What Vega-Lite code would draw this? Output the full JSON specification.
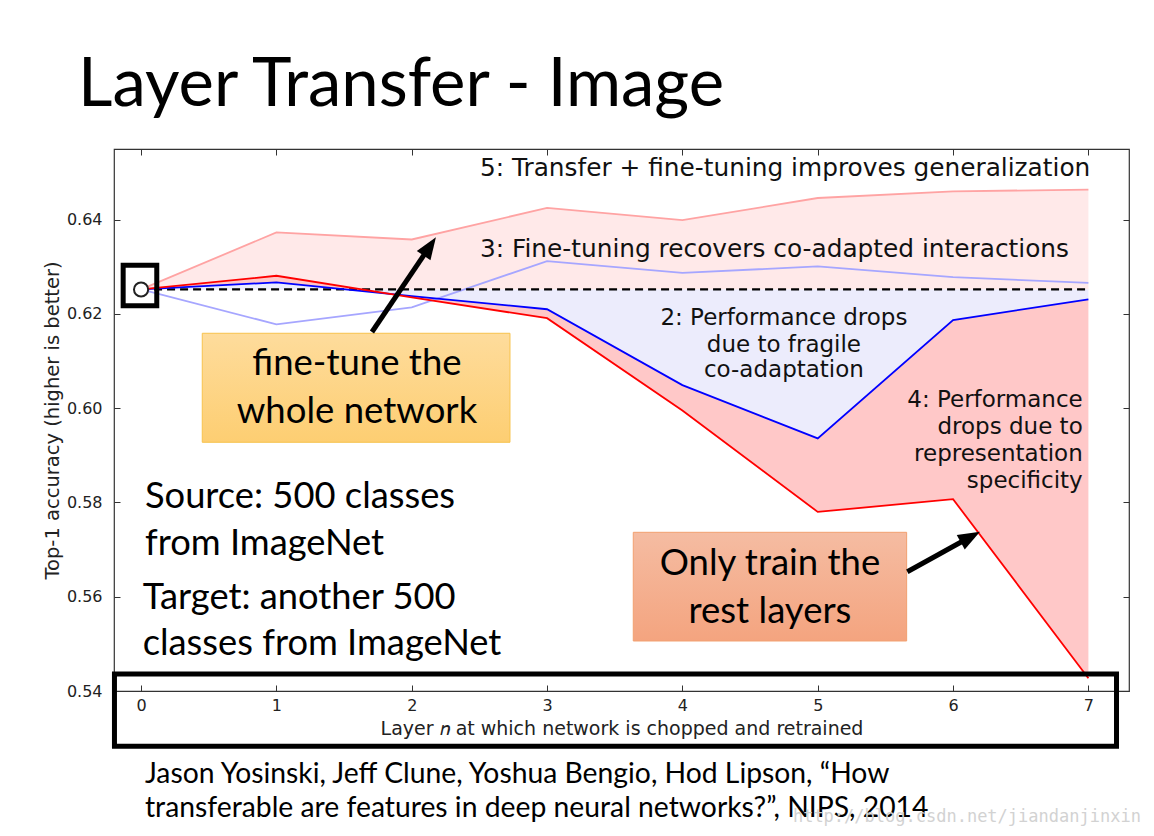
{
  "$schema": "https://vega.github.io/schema/vega-lite/v6.json",
  "width": 1015,
  "height": 542,
  "autosize": {"type": "none"},
  "padding": {"left": 114, "top": 149, "right": 25, "bottom": 145},
  "background": "white",
  "config": {
    "view": {"stroke": "#333", "strokeWidth": 1.2},
    "axis": {"grid": false, "domain": false, "labelFlush": false, "tickColor": "#333", "tickWidth": 1}
  },
  "title": {
    "text": "Layer Transfer - Image",
    "anchor": "start",
    "frame": "group",
    "font": "Lato",
    "fontSize": 67,
    "fontWeight": "normal",
    "color": "#000",
    "baseline": "alphabetic",
    "dx": -36,
    "dy": 66,
    "offset": 42
  },
  "datasets": {
    "acc": [
      {"n": 0, "base": 0.6252, "AnB_ft": 0.6252, "BnB_ft": 0.6252, "AnB": 0.6252, "BnB": 0.6252},
      {"n": 1, "base": 0.6252, "AnB_ft": 0.6373, "BnB_ft": 0.6178, "AnB": 0.6281, "BnB": 0.6267},
      {"n": 2, "base": 0.6252, "AnB_ft": 0.6358, "BnB_ft": 0.6214, "AnB": 0.6235, "BnB": 0.6238},
      {"n": 3, "base": 0.6252, "AnB_ft": 0.6425, "BnB_ft": 0.6312, "AnB": 0.6191, "BnB": 0.6210},
      {"n": 4, "base": 0.6252, "AnB_ft": 0.6399, "BnB_ft": 0.6287, "AnB": 0.5995, "BnB": 0.6049},
      {"n": 5, "base": 0.6252, "AnB_ft": 0.6446, "BnB_ft": 0.6301, "AnB": 0.5780, "BnB": 0.5936},
      {"n": 6, "base": 0.6252, "AnB_ft": 0.6460, "BnB_ft": 0.6278, "AnB": 0.5807, "BnB": 0.6187},
      {"n": 7, "base": 0.6252, "AnB_ft": 0.6464, "BnB_ft": 0.6266, "AnB": 0.5427, "BnB": 0.6231}
    ],
    "frames": [
      {"x1": -0.1323, "x2": 0.1160, "y1": 0.63035, "y2": 0.62173},
      {"x1": -0.1966, "x2": 7.2077, "y1": 0.5436, "y2": 0.5283}
    ],
    "yellowBox": [{"x1": 0.4522, "x2": 2.7259, "y1": 0.61590, "y2": 0.59277}],
    "orangeBox": [{"x1": 3.637, "x2": 5.657, "y1": 0.57367, "y2": 0.55061}],
    "arrows": [
      {"x1": 1.706, "y1": 0.61617, "x2": 2.122, "y2": 0.63385},
      {"x1": 5.662, "y1": 0.56531, "x2": 6.110, "y2": 0.5724}
    ],
    "head1": [{"x": 2.122, "y": 0.63385}],
    "head2": [{"x": 6.110, "y": 0.5724}],
    "notesLeft": [
      {"x": 2.504, "y": 0.64927, "text": "5: Transfer + fine-tuning improves generalization"},
      {"x": 2.504, "y": 0.63209, "text": "3: Fine-tuning recovers co-adapted interactions"}
    ],
    "notesCenter": [
      {"x": 4.75, "y": 0.61766, "text": "2: Performance drops"},
      {"x": 4.75, "y": 0.61200, "text": "due to fragile"},
      {"x": 4.75, "y": 0.60657, "text": "co-adaptation"}
    ],
    "notesRight": [
      {"x": 6.958, "y": 0.60033, "text": "4: Performance"},
      {"x": 6.958, "y": 0.59453, "text": "drops due to"},
      {"x": 6.958, "y": 0.58880, "text": "representation"},
      {"x": 6.958, "y": 0.58302, "text": "specificity"}
    ],
    "boxText": [
      {"x": 1.595, "y": 0.60705, "text": "fine-tune the"},
      {"x": 1.595, "y": 0.59680, "text": "whole network"},
      {"x": 4.647, "y": 0.56461, "text": "Only train the"},
      {"x": 4.647, "y": 0.55449, "text": "rest layers"}
    ],
    "sourceText": [
      {"x": 0.0288, "y": 0.57889, "text": "Source: 500 classes"},
      {"x": 0.0288, "y": 0.56886, "text": "from ImageNet"},
      {"x": 0.0118, "y": 0.55734, "text": "Target: another 500"},
      {"x": 0.0118, "y": 0.54757, "text": "classes from ImageNet"}
    ],
    "citation": [
      {"x": 0.0288, "y": 0.52048, "text": "Jason Yosinski, Jeff Clune, Yoshua Bengio, Hod Lipson, “How"},
      {"x": 0.0288, "y": 0.51327, "text": "transferable are features in deep neural networks?”, NIPS, 2014"}
    ],
    "watermark": [{"x": 7.388, "y": 0.5122, "text": "http://blog.csdn.net/jiandanjinxin"}]
  },
  "resolve": {"axis": {"x": "independent", "y": "independent"}},
  "layer": [
    {
      "layer": [
        {
          "data": {"name": "acc"},
          "mark": {"type": "area", "color": "#ffe9e9", "opacity": 1},
          "encoding": {
            "x": {
              "field": "n", "type": "quantitative",
              "scale": {"domain": [-0.2, 7.3], "nice": false, "zero": false},
              "axis": {
                "orient": "bottom", "values": [0, 1, 2, 3, 4, 5, 6, 7], "format": "d",
                "tickSize": -6, "labelFont": "DejaVu Sans", "labelFontSize": 16, "labelColor": "#222",
                "labelPadding": 12,
                "title": "Layer 𝑛 at which network is chopped and retrained",
                "titleFont": "DejaVu Sans", "titleFontSize": 19, "titleFontWeight": "normal",
                "titleColor": "#222", "titlePadding": 6
              }
            },
            "y": {
              "field": "AnB_ft", "type": "quantitative",
              "scale": {"domain": [0.54, 0.655], "nice": false, "zero": false},
              "axis": {
                "orient": "left", "values": [0.54, 0.56, 0.58, 0.6, 0.62, 0.64], "format": ".2f",
                "tickSize": -6, "labelFont": "DejaVu Sans", "labelFontSize": 16, "labelColor": "#222",
                "labelPadding": 18,
                "title": "Top-1 accuracy (higher is better)",
                "titleFont": "DejaVu Sans", "titleFontSize": 19.5, "titleFontWeight": "normal",
                "titleColor": "#222", "titlePadding": 4
              }
            },
            "y2": {"field": "base"}
          }
        },
        {
          "data": {"name": "acc"},
          "mark": {"type": "area", "color": "#ececfc", "opacity": 1},
          "encoding": {
            "x": {"field": "n", "type": "quantitative"},
            "y": {"field": "BnB", "type": "quantitative"},
            "y2": {"field": "base"}
          }
        },
        {
          "data": {"name": "acc"},
          "mark": {"type": "area", "color": "#ffc8c8", "opacity": 1},
          "encoding": {
            "x": {"field": "n", "type": "quantitative"},
            "y": {"field": "AnB", "type": "quantitative"},
            "y2": {"field": "BnB"}
          }
        },
        {
          "data": {"name": "acc"},
          "mark": {"type": "line", "color": "#ffa3a3", "strokeWidth": 1.8},
          "encoding": {
            "x": {"field": "n", "type": "quantitative"},
            "y": {"field": "AnB_ft", "type": "quantitative"}
          }
        },
        {
          "data": {"name": "acc"},
          "mark": {"type": "line", "color": "#a6a6ff", "strokeWidth": 1.8},
          "encoding": {
            "x": {"field": "n", "type": "quantitative"},
            "y": {"field": "BnB_ft", "type": "quantitative"}
          }
        },
        {
          "data": {"name": "acc"},
          "mark": {"type": "line", "color": "#000", "strokeWidth": 2.2, "strokeDash": [8, 5]},
          "encoding": {
            "x": {"field": "n", "type": "quantitative"},
            "y": {"field": "base", "type": "quantitative"}
          }
        },
        {
          "data": {"name": "acc"},
          "mark": {"type": "line", "color": "#0000ff", "strokeWidth": 1.8},
          "encoding": {
            "x": {"field": "n", "type": "quantitative"},
            "y": {"field": "BnB", "type": "quantitative"}
          }
        },
        {
          "data": {"name": "acc"},
          "mark": {"type": "line", "color": "#ff0000", "strokeWidth": 1.8},
          "encoding": {
            "x": {"field": "n", "type": "quantitative"},
            "y": {"field": "AnB", "type": "quantitative"}
          }
        },
        {
          "data": {"name": "acc"},
          "transform": [{"filter": "datum.n == 0"}],
          "mark": {"type": "point", "shape": "circle", "filled": true, "fill": "white", "stroke": "#222", "strokeWidth": 2, "size": 200, "opacity": 1},
          "encoding": {
            "x": {"field": "n", "type": "quantitative"},
            "y": {"field": "base", "type": "quantitative"}
          }
        },
        {
          "data": {"name": "frames"},
          "mark": {"type": "rect", "fill": null, "fillOpacity": 0, "stroke": "#000", "strokeWidth": 5},
          "encoding": {
            "x": {"field": "x1", "type": "quantitative"},
            "x2": {"field": "x2"},
            "y": {"field": "y1", "type": "quantitative"},
            "y2": {"field": "y2"}
          }
        },
        {
          "data": {"name": "yellowBox"},
          "mark": {
            "type": "rect", "stroke": "#f7c24c", "strokeWidth": 1,
            "fill": {"gradient": "linear", "x1": 0, "y1": 0, "x2": 0, "y2": 1,
              "stops": [{"offset": 0, "color": "#fedc9c"}, {"offset": 1, "color": "#fdce72"}]}
          },
          "encoding": {
            "x": {"field": "x1", "type": "quantitative"},
            "x2": {"field": "x2"},
            "y": {"field": "y1", "type": "quantitative"},
            "y2": {"field": "y2"}
          }
        },
        {
          "data": {"name": "orangeBox"},
          "mark": {
            "type": "rect", "stroke": "#f2a070", "strokeWidth": 1,
            "fill": {"gradient": "linear", "x1": 0, "y1": 0, "x2": 0, "y2": 1,
              "stops": [{"offset": 0, "color": "#f5bca2"}, {"offset": 1, "color": "#f4a47f"}]}
          },
          "encoding": {
            "x": {"field": "x1", "type": "quantitative"},
            "x2": {"field": "x2"},
            "y": {"field": "y1", "type": "quantitative"},
            "y2": {"field": "y2"}
          }
        },
        {
          "data": {"name": "arrows"},
          "mark": {"type": "rule", "color": "#000", "strokeWidth": 5},
          "encoding": {
            "x": {"field": "x1", "type": "quantitative"},
            "y": {"field": "y1", "type": "quantitative"},
            "x2": {"field": "x2"},
            "y2": {"field": "y2"}
          }
        },
        {
          "data": {"name": "head1"},
          "mark": {"type": "point", "shape": "M0,-1L0.6,0.6L-0.6,0.6Z", "filled": true, "color": "#000", "opacity": 1, "size": 756, "angle": 34},
          "encoding": {
            "x": {"field": "x", "type": "quantitative"},
            "y": {"field": "y", "type": "quantitative"}
          }
        },
        {
          "data": {"name": "head2"},
          "mark": {"type": "point", "shape": "M0,-1L0.6,0.6L-0.6,0.6Z", "filled": true, "color": "#000", "opacity": 1, "size": 756, "angle": 61},
          "encoding": {
            "x": {"field": "x", "type": "quantitative"},
            "y": {"field": "y", "type": "quantitative"}
          }
        },
        {
          "data": {"name": "notesLeft"},
          "mark": {"type": "text", "align": "left", "baseline": "alphabetic", "font": "DejaVu Sans", "fontSize": 24.8, "color": "#111"},
          "encoding": {
            "x": {"field": "x", "type": "quantitative"},
            "y": {"field": "y", "type": "quantitative"},
            "text": {"field": "text"}
          }
        },
        {
          "data": {"name": "notesCenter"},
          "mark": {"type": "text", "align": "center", "baseline": "alphabetic", "font": "DejaVu Sans", "fontSize": 23, "color": "#111"},
          "encoding": {
            "x": {"field": "x", "type": "quantitative"},
            "y": {"field": "y", "type": "quantitative"},
            "text": {"field": "text"}
          }
        },
        {
          "data": {"name": "notesRight"},
          "mark": {"type": "text", "align": "right", "baseline": "alphabetic", "font": "DejaVu Sans", "fontSize": 23, "color": "#111"},
          "encoding": {
            "x": {"field": "x", "type": "quantitative"},
            "y": {"field": "y", "type": "quantitative"},
            "text": {"field": "text"}
          }
        },
        {
          "data": {"name": "boxText"},
          "mark": {"type": "text", "align": "center", "baseline": "alphabetic", "font": "Lato", "fontSize": 36.5, "color": "#000"},
          "encoding": {
            "x": {"field": "x", "type": "quantitative"},
            "y": {"field": "y", "type": "quantitative"},
            "text": {"field": "text"}
          }
        },
        {
          "data": {"name": "sourceText"},
          "mark": {"type": "text", "align": "left", "baseline": "alphabetic", "font": "Lato", "fontSize": 36.3, "color": "#000"},
          "encoding": {
            "x": {"field": "x", "type": "quantitative"},
            "y": {"field": "y", "type": "quantitative"},
            "text": {"field": "text"}
          }
        },
        {
          "data": {"name": "citation"},
          "mark": {"type": "text", "align": "left", "baseline": "alphabetic", "font": "Lato", "fontSize": 28.3, "color": "#000"},
          "encoding": {
            "x": {"field": "x", "type": "quantitative"},
            "y": {"field": "y", "type": "quantitative"},
            "text": {"field": "text"}
          }
        },
        {
          "data": {"name": "watermark"},
          "mark": {"type": "text", "align": "right", "baseline": "alphabetic", "font": "DejaVu Sans Mono", "fontSize": 17, "color": "#d2d2d2"},
          "encoding": {
            "x": {"field": "x", "type": "quantitative"},
            "y": {"field": "y", "type": "quantitative"},
            "text": {"field": "text"}
          }
        }
      ]
    },
    {
      "data": {"name": "acc"},
      "mark": {"type": "point", "opacity": 0},
      "encoding": {
        "x": {
          "field": "n", "type": "quantitative",
          "axis": {"orient": "top", "values": [0, 1, 2, 3, 4, 5, 6, 7], "labels": false, "tickSize": -6, "title": null}
        },
        "y": {
          "field": "base", "type": "quantitative",
          "axis": {"orient": "right", "values": [0.54, 0.56, 0.58, 0.6, 0.62, 0.64], "labels": false, "tickSize": -6, "title": null}
        }
      }
    }
  ]
}
